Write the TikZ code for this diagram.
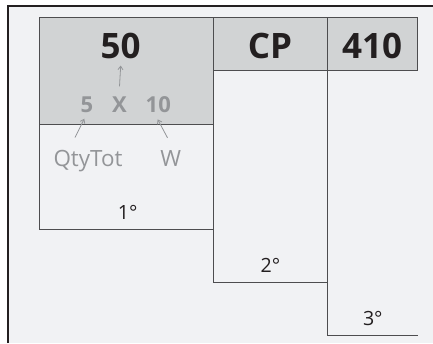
\documentclass[tikz,border=0pt]{standalone}
\usepackage{fontspec}
\setmainfont{Open Sans}
\usetikzlibrary{arrows.meta}
\definecolor{bgc}{HTML}{F1F2F4}
\definecolor{hdr}{HTML}{D1D3D4}
\definecolor{linec}{HTML}{4D4D4F}
\definecolor{txt}{HTML}{231F20}
\definecolor{grayt}{HTML}{939598}
\definecolor{framec}{HTML}{231F20}
\tikzset{
  hdrbox/.style={fill=hdr,draw=linec,line width=1pt},
  colline/.style={draw=linec,line width=1pt},
  bigt/.style={anchor=base,inner sep=0pt,text=txt,font=\bfseries\fontsize{35}{35}\selectfont},
  midt/.style={anchor=base,inner sep=0pt,text=grayt,font=\bfseries\fontsize{22}{22}\selectfont},
  lblt/.style={anchor=base,inner sep=0pt,text=grayt,font=\fontsize{22.4}{22.4}\selectfont},
  ordt/.style={anchor=base,inner sep=0pt,text=txt,font=\fontsize{19.6}{19.6}\selectfont},
  arr/.style={draw=grayt,line width=0.8pt,-{Straight Barb[length=3.5pt,width=5pt]}}
}
\begin{document}
\begin{tikzpicture}[x=1pt,y=-1pt]
\useasboundingbox (0,0) rectangle (433,343);
\fill[white] (0,0) rectangle (433,343);
\fill[bgc] (8.2,6.2) rectangle (433,343);
\draw[framec,line width=2.3pt] (8.2,343) -- (8.2,6.2) -- (433,6.2);
% header boxes
\draw[hdrbox] (39.7,17.7) rectangle (213.3,124);
\draw[hdrbox] (213.3,17.7) rectangle (327,70.7);
\draw[hdrbox] (327,17.7) rectangle (417.7,70.7);
% columns
\draw[colline] (39.7,124) -- (39.7,229.3) -- (213.3,229.3);
\draw[colline] (213.3,124) -- (213.3,282.3) -- (327,282.3);
\draw[colline] (327,70.7) -- (327,335) -- (417.7,335);
% texts
\node[bigt] (n50) at (120.7,58.3) {50};
\node[bigt] (cp) at (270,58.3) {CP};
\node[bigt] (n410) at (372,58.3) {410};
\node[midt] (five) at (87,112.3) {5};
\node[midt] (xx) at (119.5,112.3) {X};
\node[midt] (ten) at (158.3,112.3) {10};
\node[lblt] (qty) at (88,166.7) {QtyTot};
\node[lblt] (w) at (170.8,166.7) {W};
\node[ordt] (o1) at (127.7,219) {1°};
\node[ordt] (o2) at (270.5,272.3) {2°};
\node[ordt] (o3) at (372.8,325.7) {3°};
% arrows
\draw[arr] ([yshift=10pt]xx.north) -- ([yshift=-6.7pt]n50.south);
\draw[arr] ([shift={(-13,-12.7)}]qty.north) -- ([shift={(-2.7,6)}]five.south);
\draw[arr] ([shift={(-3.3,-12.7)}]w.north) -- ([shift={(-0.6,6.7)}]ten.south);
\end{tikzpicture}
\end{document}
